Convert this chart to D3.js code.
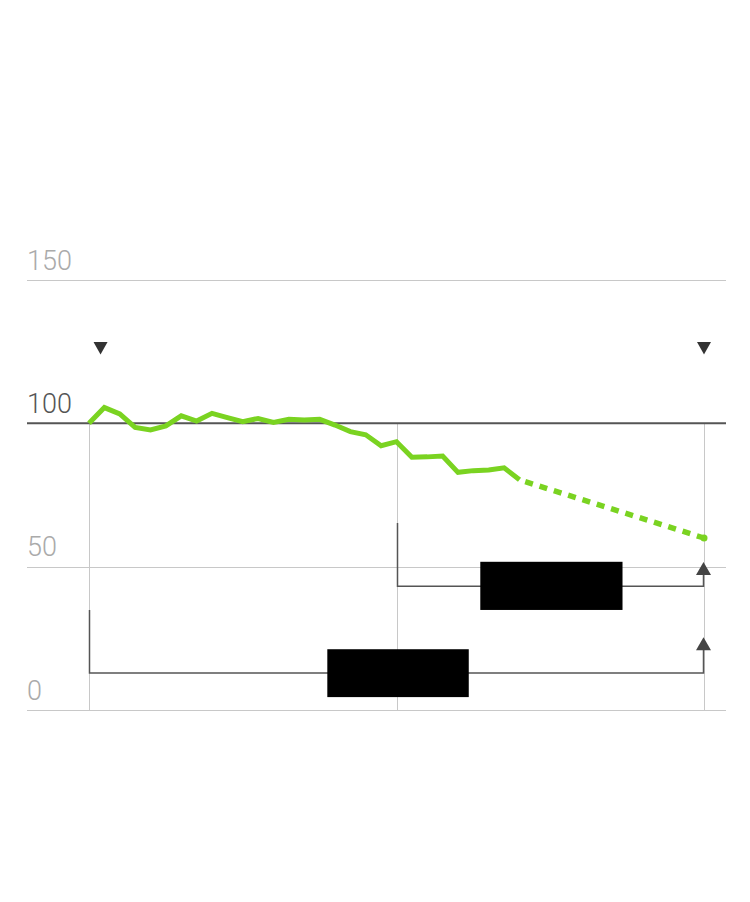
<!DOCTYPE html>
<html>
<head>
<meta charset="utf-8">
<style>
body, html {
  margin: 0;
  background: #fff;
}
svg {
  display: block;
  font-family: Roboto, "Liberation Sans", sans-serif;
}
.grid line {
  stroke: #c8c8c8;
  stroke-width: 1px;
}
.tick-label {
  font-size: 27px;
  font-weight: 300;
  fill: #aaa;
}
.tick-label.base {
  fill: #555;
}
.bracket {
  fill: none;
  stroke: #555;
  stroke-width: 1.5px;
}
</style>
</head>
<body>
<script src="https://cdn.jsdelivr.net/npm/d3@7"></script>
<script>
// values
var years = [1990, 1991, 1992, 1993, 1994, 1995, 1996, 1997, 1998, 1999,
             2000, 2001, 2002, 2003, 2004, 2005, 2006, 2007, 2008, 2009,
             2010, 2011, 2012, 2013, 2014, 2015, 2016, 2017, 2018];
var values = [100, 105.5, 103.3, 98.6, 97.7, 99.1, 102.6, 100.8, 103.5, 102,
              100.6, 101.7, 100.3, 101.4, 101.2, 101.4, 99.4, 97.1, 96, 92.2,
              93.6, 88.2, 88.3, 88.6, 82.9, 83.5, 83.7, 84.5, 80.3];
var projYears = [2018, 2030];
var projValues = [80.3, 60];

var yTicks = [0, 50, 100, 150];
var baseValue = 100;
var refYears = [1990, 2010, 2030];
var markerYears = [1990.75, 2030];
var markerValue = 126.3;

// brackets: from year, to year, top of left leg, level of bar, arrow tip
var brackets = [
  { from: 2010, to: 2030, top: 65.2, level: 43.2, tip: 51.6 },
  { from: 1990, to: 2030, top: 34.9, level: 12.9, tip: 25.4 }
];
// black label boxes: x0, x1 in years, y0, y1 in values
var boxes = [
  { x0: 2015.45, x1: 2024.7, v0: 51.7, v1: 34.9 },
  { x0: 2005.5, x1: 2014.7, v0: 21.2, v1: 4.5 }
];

var width = 750, height = 902;

var x = d3.scaleLinear().domain([1990, 2030]).range([89, 704]);
var y = d3.scaleLinear().domain([0, 150]).range([710, 280]);

var svg = d3.select("body").append("svg")
    .attr("width", width)
    .attr("height", height);

// horizontal grid
var grid = svg.append("g").attr("class", "grid");
grid.selectAll("line.h")
    .data(yTicks.filter(function(d) { return d != baseValue; }))
  .enter().append("line")
    .attr("class", "h")
    .attr("x1", 27).attr("x2", 726)
    .attr("y1", function(d) { return Math.round(y(d)) + 0.5; })
    .attr("y2", function(d) { return Math.round(y(d)) + 0.5; });

// vertical reference lines
grid.selectAll("line.v")
    .data(refYears)
  .enter().append("line")
    .attr("class", "v")
    .attr("x1", function(d) { return Math.round(x(d)) + 0.5; })
    .attr("x2", function(d) { return Math.round(x(d)) + 0.5; })
    .attr("y1", y(baseValue))
    .attr("y2", y(0));

// baseline at 100
svg.append("line")
    .attr("x1", 27).attr("x2", 726)
    .attr("y1", y(baseValue)).attr("y2", y(baseValue))
    .attr("stroke", "#555")
    .attr("stroke-width", 2);

// tick labels
svg.selectAll("text.tick-label")
    .data(yTicks)
  .enter().append("text")
    .attr("class", function(d) { return d == baseValue ? "tick-label base" : "tick-label"; })
    .attr("x", 27)
    .attr("y", function(d) { return y(d) - 10.5; })
    .text(function(d) { return d; });

// brackets with arrows
brackets.forEach(function(b) {
  var xa = Math.round(x(b.from)) + 0.5, xb = Math.round(x(b.to)) - 0.5;
  svg.append("path")
      .attr("class", "bracket")
      .attr("d", "M" + xa + "," + y(b.top) + "V" + y(b.level) + "H" + xb + "V" + (y(b.tip) + 10));
  svg.append("path")
      .attr("fill", "#444")
      .attr("d", "M" + xb + "," + y(b.tip) + "l7.5,13h-15z");
});

// black boxes
svg.selectAll("rect.box")
    .data(boxes)
  .enter().append("rect")
    .attr("class", "box")
    .attr("x", function(d) { return x(d.x0); })
    .attr("width", function(d) { return x(d.x1) - x(d.x0); })
    .attr("y", function(d) { return y(d.v0); })
    .attr("height", function(d) { return y(d.v1) - y(d.v0); })
    .attr("fill", "#000");

// down markers
svg.selectAll("path.marker")
    .data(markerYears)
  .enter().append("path")
    .attr("class", "marker")
    .attr("fill", "#333")
    .attr("d", function(d) { return "M" + (x(d) - 7) + "," + (y(markerValue) - 6) + "h14l-7,12.5z"; });

// green series
var line = d3.line()
    .x(function(d) { return x(d[0]); })
    .y(function(d) { return y(d[1]); });

svg.append("path")
    .datum(d3.zip(projYears, projValues))
    .attr("fill", "none")
    .attr("stroke", "#7ad321")
    .attr("stroke-width", 5.5)
    .attr("stroke-dasharray", "8,7")
    .attr("stroke-dashoffset", -6)
    .attr("d", line);

svg.append("circle")
    .attr("cx", x(projYears[1]))
    .attr("cy", y(projValues[1]))
    .attr("r", 3.5)
    .attr("fill", "#7ad321");

svg.append("path")
    .datum(d3.zip(years, values))
    .attr("fill", "none")
    .attr("stroke", "#7ad321")
    .attr("stroke-width", 5)
    .attr("stroke-linejoin", "miter")
    .attr("d", line);
</script>
</body>
</html>
